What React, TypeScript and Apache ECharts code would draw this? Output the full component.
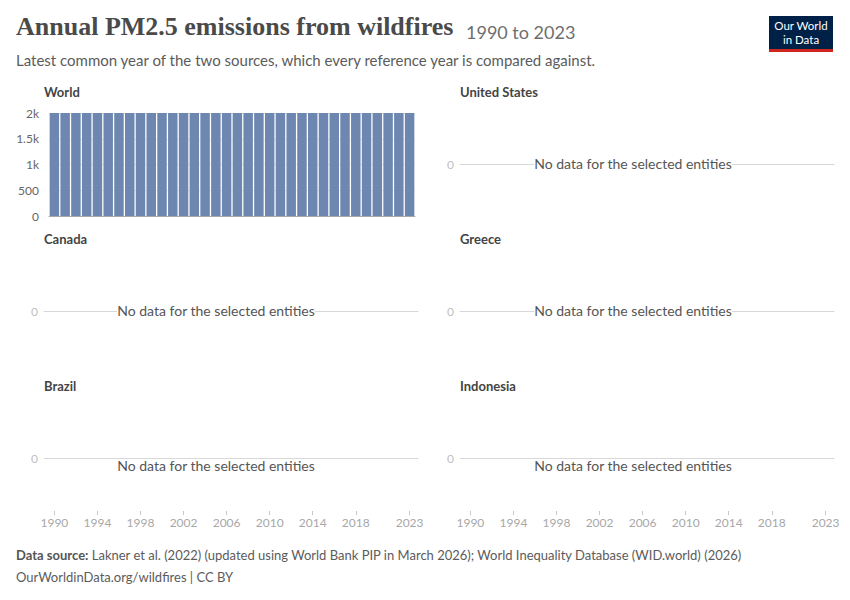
import React, { useEffect, useRef } from "react";
import * as echarts from "echarts";

const years = [
  "1990", "1991", "1992", "1993", "1994", "1995", "1996", "1997", "1998", "1999",
  "2000", "2001", "2002", "2003", "2004", "2005", "2006", "2007", "2008", "2009",
  "2010", "2011", "2012", "2013", "2014", "2015", "2016", "2017", "2018", "2019",
  "2020", "2021", "2022", "2023",
];
const worldValues = [
  2023, 2023, 2023, 2023, 2023, 2023, 2023, 2023, 2023, 2023,
  2023, 2023, 2023, 2023, 2023, 2023, 2023, 2023, 2023, 2023,
  2023, 2023, 2023, 2023, 2023, 2023, 2023, 2023, 2023, 2023,
  2023, 2023, 2023, 2023,
];
const tickYears = ["1990", "1994", "1998", "2002", "2006", "2010", "2014", "2018", "2023"];
const worldTicks = [0, 500, 1000, 1500, 2000];
const worldTickLabels = ["0", "500", "1k", "1.5k", "2k"];
const emptyPanels = ["United States", "Canada", "Greece", "Brazil", "Indonesia"];

const FONT = "Lato, 'Noto Sans', sans-serif";

export default function App() {
  const ref = useRef<HTMLDivElement>(null);
  useEffect(() => {
    if (!ref.current) return;
    const chart = echarts.init(ref.current, null, { renderer: "svg" });

    const rowTops = [113, 260, 407];
    const rowH = 103;
    const emptyPos = [
      { col: 1, row: 0 },
      { col: 0, row: 1 },
      { col: 1, row: 1 },
      { col: 0, row: 2 },
      { col: 1, row: 2 },
    ];

    const grids: any[] = [];
    const xAxes: any[] = [];
    const yAxes: any[] = [];
    const series: any[] = [];
    const graphics: any[] = [];

    // World grid
    grids.push({ left: 49, width: 366, top: rowTops[0], height: rowH });
    xAxes.push({
      gridIndex: 0,
      type: "category",
      data: years,
      axisLine: { show: true, lineStyle: { color: "#a8a8a8" } },
      axisTick: { show: false },
      axisLabel: { show: false },
    });
    yAxes.push({
      gridIndex: 0,
      type: "value",
      min: 0,
      max: 2000,
      interval: 500,
      axisLine: { show: false },
      axisTick: { show: false },
      splitLine: { show: true, lineStyle: { color: "#e8e8e8" } },
      axisLabel: {
        color: "#666",
        fontFamily: FONT,
        fontSize: 12,
        margin: 10,
        formatter: (v: number) => worldTickLabels[worldTicks.indexOf(v)] ?? "",
      },
    });
    series.push({
      type: "bar",
      xAxisIndex: 0,
      yAxisIndex: 0,
      data: worldValues,
      barCategoryGap: "12%",
      itemStyle: { color: "#6d87b0" },
    });
    graphics.push({
      type: "text",
      left: 44,
      top: 85,
      style: { text: "World", font: `bold 13px ${FONT}`, fill: "#444" },
    });

    emptyPos.forEach((p, i) => {
      const gi = grids.length;
      const left = p.col === 0 ? 44 : 460;
      grids.push({ left, width: 374, top: rowTops[p.row], height: rowH });
      xAxes.push({
        gridIndex: gi,
        type: "value",
        min: 0,
        max: 1,
        axisLine: { show: true, onZero: true, lineStyle: { color: "#d8d8d8" } },
        axisTick: { show: false },
        axisLabel: { show: false },
        splitLine: { show: false },
      });
      yAxes.push({
        gridIndex: gi,
        type: "value",
        min: -1,
        max: 1,
        interval: 1,
        axisLine: { show: false },
        axisTick: { show: false },
        splitLine: { show: false },
        axisLabel: {
          color: "#c0c0c0",
          fontFamily: FONT,
          fontSize: 12,
          margin: 6,
          formatter: (v: number) => (v === 0 ? "0" : ""),
        },
      });
      series.push({ type: "line", xAxisIndex: gi, yAxisIndex: gi, data: [] });
      const titleX = p.col === 0 ? 44 : 460;
      graphics.push({
        type: "text",
        left: titleX,
        top: rowTops[p.row] - 28,
        style: { text: emptyPanels[i], font: `bold 13px ${FONT}`, fill: "#444" },
      });
      const cx = p.col === 0 ? 216 : 633;
      const zeroY = rowTops[p.row] + rowH / 2;
      const below = p.row === 2;
      graphics.push({
        type: "text",
        x: cx,
        y: below ? zeroY + 7 : zeroY - 1,
        z: 100,
        style: {
          text: "No data for the selected entities",
          font: `14px ${FONT}`,
          fill: "#555",
          align: "center",
          verticalAlign: "middle",
          backgroundColor: below ? "transparent" : "#fff",
        },
      });
    });

    // bottom axis label grids
    [49, 465].forEach((left) => {
      const gi = grids.length;
      grids.push({ left, width: 366, top: rowTops[2], height: rowH + 1 });
      xAxes.push({
        gridIndex: gi,
        type: "category",
        data: years,
        axisLine: { show: false },
        axisTick: {
          show: true,
          alignWithLabel: true,
          length: 4,
          interval: (idx: number, val: string) => tickYears.includes(val),
          lineStyle: { color: "#c8c8c8" },
        },
        axisLabel: {
          show: true,
          color: "#a8a8a8",
          fontFamily: FONT,
          fontSize: 12,
          margin: 5,
          interval: (idx: number, val: string) => tickYears.includes(val),
        },
      });
      yAxes.push({ gridIndex: gi, type: "value", show: false });
      series.push({ type: "bar", xAxisIndex: gi, yAxisIndex: gi, data: [] });
    });

    // header
    graphics.push(
      {
        type: "text",
        left: 16,
        top: 13,
        style: {
          text: "Annual PM2.5 emissions from wildfires",
          font: "bold 26px 'Liberation Serif', 'DejaVu Serif', serif",
          fill: "#4a4a4a",
        },
      },
      {
        type: "text",
        left: 466,
        top: 23,
        style: { text: "1990 to 2023", font: `18px ${FONT}`, fill: "#6e6e6e" },
      },
      {
        type: "text",
        left: 16,
        top: 52,
        style: {
          text: "Latest common year of the two sources, which every reference year is compared against.",
          font: `15px ${FONT}`,
          fill: "#5b5b5b",
        },
      },
      {
        type: "group",
        left: 769,
        top: 16,
        children: [
          { type: "rect", shape: { x: 0, y: 0, width: 64, height: 33 }, style: { fill: "#002147" } },
          { type: "rect", shape: { x: 0, y: 33, width: 64, height: 3 }, style: { fill: "#ce261e" } },
          {
            type: "text",
            x: 32,
            y: 3,
            style: {
              text: "Our World",
              font: `11.5px ${FONT}`,
              fill: "#fff",
              align: "center",
              verticalAlign: "top",
            },
          },
          {
            type: "text",
            x: 32,
            y: 17,
            style: {
              text: "in Data",
              font: `11.5px ${FONT}`,
              fill: "#fff",
              align: "center",
              verticalAlign: "top",
            },
          },
        ],
      },
      {
        type: "text",
        left: 16,
        top: 548,
        style: {
          text: "{b|Data source:} Lakner et al. (2022) (updated using World Bank PIP in March 2026); World Inequality Database (WID.world) (2026)",
          font: `13px ${FONT}`,
          fill: "#5b5b5b",
          rich: { b: { fontWeight: "bold", fontFamily: FONT, fontSize: 13, fill: "#555" } },
        },
      },
      {
        type: "text",
        left: 16,
        top: 570,
        style: { text: "OurWorldinData.org/wildfires | CC BY", font: `13px ${FONT}`, fill: "#5b5b5b" },
      }
    );

    chart.setOption({
      animation: false,
      backgroundColor: "#fff",
      textStyle: { fontFamily: FONT },
      grid: grids,
      xAxis: xAxes,
      yAxis: yAxes,
      series,
      graphic: graphics,
    });
    return () => chart.dispose();
  }, []);
  return (
    <div
      ref={ref}
      style={{ position: "fixed", left: 0, top: 0, width: 850, height: 600 }}
    />
  );
}
